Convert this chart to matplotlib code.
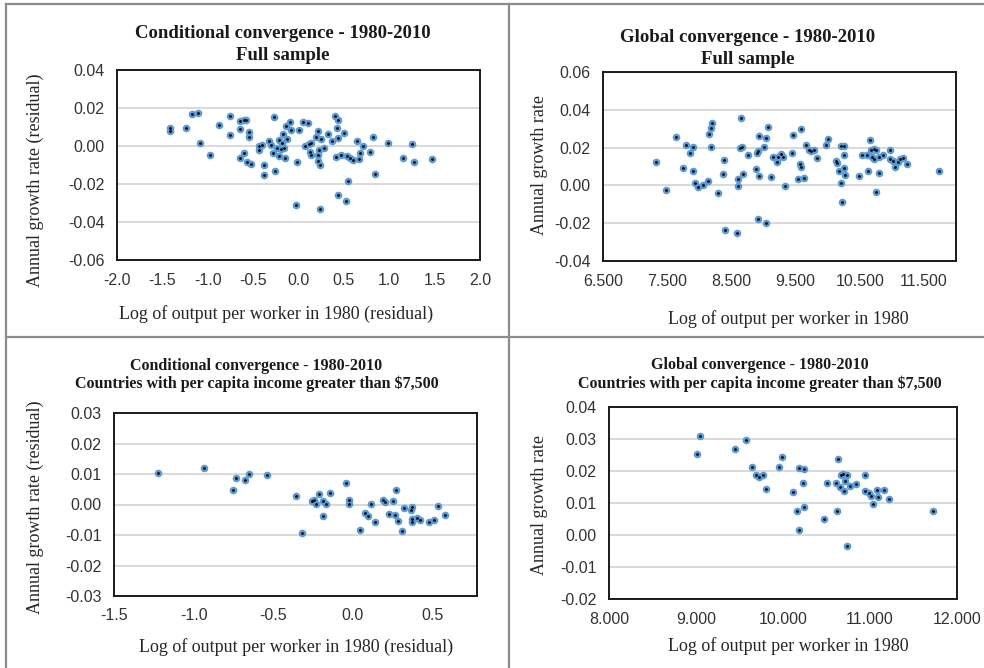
import matplotlib
matplotlib.use("Agg")
import matplotlib.pyplot as plt
from matplotlib.ticker import FormatStrFormatter, MultipleLocator
from matplotlib.lines import Line2D

plt.rcParams['axes.unicode_minus'] = False

W, H = 984, 668

# ---- data ----
# conditional convergence, full sample (residuals)
cond_full_x = [-1.42, -1.42, -1.24, -1.17, -1.11, -1.09, -0.98, -0.88, -0.76, -0.76,
               -0.65, -0.60, -0.58, -0.64, -0.54, -0.55, -0.64, -0.60, -0.57, -0.52,
               -0.43, -0.43, -0.40, -0.38, -0.38, -0.33, -0.30, -0.28, -0.27, -0.26,
               -0.24, -0.21, -0.21, -0.19, -0.18, -0.17, -0.16, -0.15, -0.14, -0.13,
               -0.09, -0.08, -0.02, -0.03, 0.00, 0.05, 0.07, 0.11, 0.12, 0.13,
               0.14, 0.14, 0.19, 0.22, 0.22, 0.22, 0.23, 0.24, 0.24, 0.25,
               0.28, 0.32, 0.37, 0.40, 0.43, 0.42, 0.41, 0.43, 0.44, 0.47,
               0.50, 0.52, 0.53, 0.54, 0.57, 0.60, 0.64, 0.67, 0.68, 0.71,
               0.79, 0.82, 0.84, 0.99, 1.15, 1.25, 1.27, 1.47]
cond_full_y = [0.0095, 0.0080, 0.0093, 0.0167, 0.0174, 0.0014, -0.0049, 0.0109, 0.0160, 0.0060,
               0.0133, 0.0137, 0.0136, 0.0089, 0.0072, 0.0046, -0.0063, -0.0039, -0.0086, -0.0093,
               0.0000, -0.0023, 0.0004, -0.0102, -0.0154, 0.0026, 0.0004, -0.0035, 0.0153, -0.0133,
               -0.0009, 0.0030, -0.0054, -0.0014, 0.0016, 0.0061, -0.0009, -0.0061, 0.0105, 0.0035,
               0.0125, 0.0084, -0.0082, -0.0312, 0.0086, 0.0128, 0.0002, 0.0119, 0.0012, -0.0032,
               -0.0049, 0.0016, 0.0047, 0.0079, -0.0079, -0.0049, -0.0019, -0.0098, -0.0332, 0.0037,
               -0.0009, 0.0063, 0.0026, 0.0160, 0.0135, 0.0095, -0.0058, -0.0260, 0.0042, -0.0046,
               0.0067, -0.0288, -0.0054, -0.0184, -0.0061, -0.0072, 0.0026, -0.0070, -0.0037, -0.0002,
               -0.0032, 0.0049, -0.0147, 0.0014, -0.0065, 0.0009, -0.0082, -0.0067]

# global convergence, full sample
glob_full_x = [7.333, 7.479, 7.630, 7.745, 7.786, 7.849, 7.896, 7.906, 7.927, 7.979,
               8.057, 8.135, 8.146, 8.177, 8.193, 8.182, 8.292, 8.370, 8.391, 8.401,
               8.583, 8.599, 8.609, 8.646, 8.641, 8.667, 8.677, 8.766, 8.880, 8.896,
               8.917, 8.932, 8.922, 8.938, 9.016, 9.036, 9.042, 9.068, 9.120, 9.146,
               9.214, 9.219, 9.271, 9.302, 9.328, 9.438, 9.464, 9.531, 9.573, 9.583,
               9.589, 9.635, 9.667, 9.714, 9.740, 9.792, 9.828, 9.974, 10.005, 10.135,
               10.141, 10.182, 10.203, 10.208, 10.224, 10.250, 10.260, 10.260, 10.271, 10.495,
               10.531, 10.615, 10.630, 10.656, 10.677, 10.698, 10.729, 10.719, 10.750, 10.755,
               10.797, 10.797, 10.859, 10.974, 10.979, 11.016, 11.047, 11.104, 11.120, 11.177,
               11.229, 11.734]
glob_full_y = [0.0122, -0.0023, 0.0255, 0.0094, 0.0212, 0.0170, 0.0202, 0.0074, 0.0011, -0.0011,
               0.0004, 0.0025, 0.0273, 0.0303, 0.0329, 0.0204, -0.0042, 0.0062, 0.0133, -0.0234,
               -0.0251, 0.0032, -0.0002, 0.0354, 0.0196, 0.0202, 0.0060, 0.0161, 0.0087, 0.0170,
               0.0180, 0.0260, -0.0180, 0.0051, 0.0202, 0.0253, -0.0200, 0.0310, 0.0046, 0.0150,
               0.0122, 0.0150, 0.0166, 0.0149, -0.0005, 0.0172, 0.0269, 0.0035, 0.0113, 0.0096,
               0.0297, 0.0039, 0.0212, 0.0188, 0.0182, 0.0186, 0.0145, 0.0212, 0.0244, 0.0131,
               0.0120, 0.0076, 0.0209, 0.0014, -0.0089, 0.0159, 0.0209, 0.0090, 0.0055, 0.0050,
               0.0163, 0.0161, 0.0076, 0.0239, 0.0188, 0.0149, 0.0138, 0.0191, 0.0188, -0.0035,
               0.0152, 0.0067, 0.0161, 0.0188, 0.0138, 0.0129, 0.0096, 0.0126, 0.0142, 0.0143,
               0.0112, 0.0074]

# conditional convergence, income > $7,500 (residuals)
cond_rich_x = [-1.224, -0.934, -0.752, -0.731, -0.677, -0.652, -0.539, -0.359, -0.321, -0.259,
               -0.244, -0.234, -0.211, -0.190, -0.188, -0.171, -0.144, -0.043, -0.027, -0.025,
               0.042, 0.074, 0.095, 0.113, 0.141, 0.189, 0.201, 0.228, 0.253, 0.266,
               0.270, 0.283, 0.312, 0.322, 0.368, 0.373, 0.370, 0.370, 0.406, 0.423,
               0.477, 0.513, 0.538, 0.582]
cond_rich_y = [0.0104, 0.0120, 0.0047, 0.0086, 0.0079, 0.0099, 0.0096, 0.0029, -0.0092, 0.0010,
               0.0014, 0.0003, 0.0033, -0.0038, 0.0011, 0.0003, 0.0039, 0.0072, 0.0016, 0.0003,
               -0.0082, -0.0027, -0.0037, 0.0001, -0.0056, 0.0016, 0.0008, -0.0032, 0.0012, -0.0035,
               0.0047, -0.0053, -0.0087, -0.0013, -0.0019, -0.0007, -0.0047, -0.0057, -0.0045, -0.0050,
               -0.0058, -0.0050, -0.0005, -0.0033]

# global convergence, income > $7,500
glob_rich_x = [9.017, 9.048, 9.443, 9.570, 9.647, 9.685, 9.724, 9.770, 9.808, 9.954,
               9.985, 10.111, 10.161, 10.180, 10.184, 10.242, 10.230, 10.242, 10.476, 10.511,
               10.607, 10.618, 10.630, 10.656, 10.664, 10.695, 10.714, 10.706, 10.737, 10.737,
               10.775, 10.837, 10.948, 10.948, 10.987, 11.006, 11.033, 11.086, 11.090, 11.159,
               11.213, 11.724]
glob_rich_y = [0.0252, 0.0308, 0.0269, 0.0297, 0.0214, 0.0189, 0.0181, 0.0187, 0.0145, 0.0214,
               0.0244, 0.0133, 0.0076, 0.0208, 0.0015, 0.0207, 0.0161, 0.0089, 0.0051, 0.0162,
               0.0162, 0.0075, 0.0239, 0.0151, 0.0188, 0.0190, 0.0169, 0.0136, 0.0188, -0.0034,
               0.0154, 0.0160, 0.0188, 0.0137, 0.0130, 0.0121, 0.0097, 0.0140, 0.0119, 0.0142,
               0.0112, 0.0074]

# x ticks of the global full-sample panel start at 6.5
glob_full_xticks = [6.5, 7.5, 8.5, 9.5, 10.5, 11.5]

title_top = "Conditional convergence - 1980-2010"
title_glob = "Global convergence - 1980-2010"
sub_full = "Full sample"
sub_rich = "Countries with per capita income greater than $7,500"
xlab_res = "Log of output per worker in 1980 (residual)"
xlab = "Log of output per worker in 1980"
ylab_res = "Annual growth rate (residual)"
ylab = "Annual growth rate"

BLUE = '#5B9BD5'
SERIF = 'Liberation Serif'
SANS = 'Liberation Sans'


def rect(l, t, r, b):
    return [l / W, 1 - b / H, (r - l) / W, (b - t) / H]


def px(x, y):
    return x / W, 1 - y / H


def panel(fig, box, xs, ys, xlim, ylim, xstep, ystep, xfmt, yfmt):
    ax = fig.add_axes(rect(*box))
    ax.scatter(xs, ys, s=30, color=BLUE, linewidths=0, zorder=3)
    ax.scatter(xs, ys, s=4, color='black', linewidths=0, zorder=4)
    ax.set_xlim(*xlim)
    ax.set_ylim(*ylim)
    ax.xaxis.set_major_locator(MultipleLocator(xstep))
    ax.yaxis.set_major_locator(MultipleLocator(ystep))
    ax.xaxis.set_major_formatter(FormatStrFormatter(xfmt))
    ax.yaxis.set_major_formatter(FormatStrFormatter(yfmt))
    ax.grid(axis='y', color='#D9D9D9', linewidth=1.4, zorder=0)
    ax.tick_params(length=0, pad=9, labelsize=11.5, labelcolor='#333333')
    for lab in ax.get_xticklabels() + ax.get_yticklabels():
        lab.set_family(SANS)
    for sp in ax.spines.values():
        sp.set_linewidth(1.4)
        sp.set_color('#1a1a1a')
    return ax


fig = plt.figure(figsize=(W / 100, H / 100), dpi=100)

# table grid lines around the four cells
grid_kw = dict(color='#8c8c8c', linewidth=1.6, transform=fig.transFigure)
fig.add_artist(Line2D([6 / W, 1], [1 - 4 / H, 1 - 4 / H], **grid_kw))
fig.add_artist(Line2D([6 / W, 6 / W], [0, 1 - 4 / H], **grid_kw))
fig.add_artist(Line2D([509 / W, 509 / W], [0, 1 - 4 / H], **grid_kw))
fig.add_artist(Line2D([6 / W, 1], [1 - 336.5 / H, 1 - 336.5 / H], **grid_kw))

panel(fig, (117, 70, 480, 260), cond_full_x, cond_full_y, (-2, 2), (-0.06, 0.04),
      0.5, 0.02, '%.1f', '%.2f')
ax2 = panel(fig, (603, 72, 956, 261), glob_full_x, glob_full_y, (6.5, 12.0), (-0.04, 0.06),
            1.0, 0.02, '%.3f', '%.2f')
ax2.set_xticks(glob_full_xticks)
for lab in ax2.get_xticklabels():
    lab.set_family(SANS)
panel(fig, (114, 413, 477, 596), cond_rich_x, cond_rich_y, (-1.5, 0.78), (-0.03, 0.03),
      0.5, 0.01, '%.1f', '%.2f')
panel(fig, (609, 407, 957, 599), glob_rich_x, glob_rich_y, (8, 12), (-0.02, 0.04),
      1.0, 0.01, '%.3f', '%.2f')

tkw = dict(family=SERIF, weight='bold', ha='center', va='center', color='#1a1a1a')
fig.text(*px(283, 33), title_top, fontsize=13.5, **tkw)
fig.text(*px(283, 55), sub_full, fontsize=13.5, **tkw)
fig.text(*px(748, 38), title_glob, fontsize=13.5, **tkw)
fig.text(*px(748, 59), sub_full, fontsize=13.5, **tkw)
fig.text(*px(256, 366), title_top, fontsize=11.5, **tkw)
fig.text(*px(257, 384), sub_rich, fontsize=11.5, **tkw)
fig.text(*px(760, 365), title_glob, fontsize=11.5, **tkw)
fig.text(*px(760, 384), sub_rich, fontsize=11.5, **tkw)

lkw = dict(family=SERIF, ha='center', va='center', color='#262626', fontsize=13)
fig.text(*px(276, 314), xlab_res, **lkw)
fig.text(*px(788, 319), xlab, **lkw)
fig.text(*px(296, 647), xlab_res, **lkw)
fig.text(*px(788, 646), xlab, **lkw)
fig.text(*px(35, 180), ylab_res, rotation=90, **lkw)
fig.text(*px(540, 165), ylab, rotation=90, **lkw)
fig.text(*px(35, 507), ylab_res, rotation=90, **lkw)
fig.text(*px(540, 505), ylab, rotation=90, **lkw)

fig.savefig('out.png', dpi=100)
